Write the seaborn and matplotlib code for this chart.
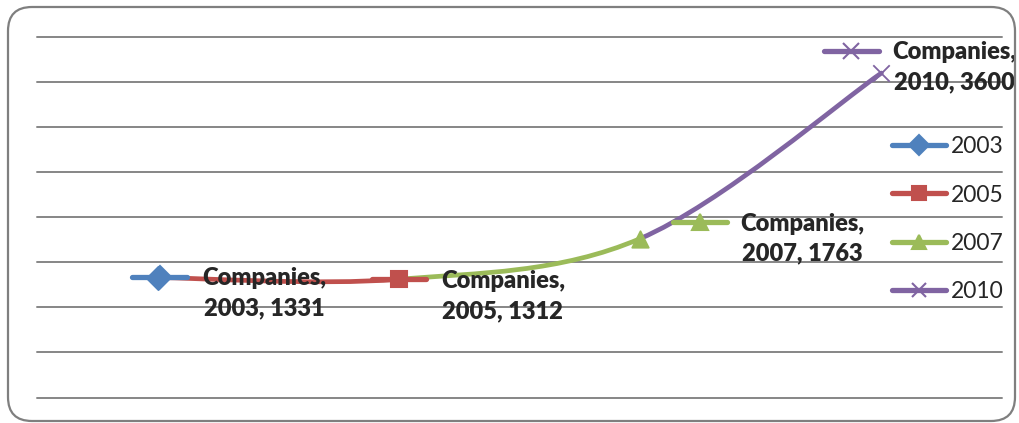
import numpy as np
import pandas as pd
import matplotlib
matplotlib.use('Agg')
import matplotlib.pyplot as plt
import matplotlib.transforms as mtransforms
from matplotlib.path import Path
from matplotlib.patches import PathPatch, FancyBboxPatch
from matplotlib.lines import Line2D
import seaborn as sns

# data
series_name = 'Companies'
years = ['2003', '2005', '2007', '2010']
companies = [1331, 1312, 1763, 3600]

# office-style colours / markers per point
colors = ['#4F81BD', '#C0504D', '#9BBB59', '#8064A2']
markers = ['D', 's', '^', 'x']

df = pd.DataFrame({'year': years, 'companies': companies})
df['pos'] = np.arange(len(df))

sns.set_theme(style='white')
plt.rcParams['font.family'] = ['Lato', 'DejaVu Sans']

W, H = 1019, 423
fig = plt.figure(figsize=(W / 100, H / 100), dpi=100)
ax = fig.add_axes([37 / W, (H - 397.5) / H, 965 / W, 360.5 / H])

ax.set_xlim(-0.5, 3.5)
ax.set_ylim(0, 4000)
ax.set_yticks(np.arange(0, 4001, 500))
ax.set_xticks([])
ax.set_yticklabels([])
ax.tick_params(length=0)
for s in ax.spines.values():
    s.set_visible(False)
ax.yaxis.grid(True, color='#868686', lw=1.4)
ax.set_axisbelow(True)
for gl in ax.get_ygridlines():
    gl.set_clip_on(False)

# smoothed line, each segment coloured like the point it ends on
xs = df['pos'].to_numpy(float)
ys = df['companies'].to_numpy(float)
n = len(xs)
for i in range(n - 1):
    p0 = np.array([xs[max(i - 1, 0)], ys[max(i - 1, 0)]])
    p1 = np.array([xs[i], ys[i]])
    p2 = np.array([xs[i + 1], ys[i + 1]])
    p3 = np.array([xs[min(i + 2, n - 1)], ys[min(i + 2, n - 1)]])
    c1 = p1 + (p2 - p0) / 6
    c2 = p2 - (p3 - p1) / 6
    path = Path([p1, c1, c2, p2], [Path.MOVETO, Path.CURVE4, Path.CURVE4, Path.CURVE4])
    ax.add_patch(PathPatch(path, fill=False, edgecolor=colors[i + 1], lw=3.4,
                           capstyle='round', zorder=3))

# point markers (one call per point: filled and line markers can't mix)
for i in range(n):
    sns.scatterplot(data=df.iloc[[i]], x='pos', y='companies', color=colors[i],
                    marker=markers[i], s=140, linewidth=1.3,
                    edgecolor=colors[i] if markers[i] != 'x' else None,
                    legend=False, zorder=4, ax=ax)
ax.set_xlabel('')
ax.set_ylabel('')

# data labels with legend keys
label_off = [(107, -16), (104, -17), (162, 0), (73, 6)]
key_off = [(2, 1), (0, 0), (60, 17), (-30, 22)]
for i, (yr, val) in enumerate(zip(years, companies)):
    kx, ky = key_off[i]
    tr = mtransforms.offset_copy(ax.transData, fig=fig, x=kx, y=ky, units='dots')
    ax.plot([i - 0.113, i, i + 0.113], [val] * 3, transform=tr, color=colors[i],
            marker=markers[i], markevery=[1], lw=3.8, ms=11, mew=1.5,
            solid_capstyle='round', zorder=4)
    dx, dy = label_off[i]
    ax.annotate(f'{series_name},\n{yr}, {val}', xy=(i, val), xytext=(dx, dy),
                textcoords='offset pixels', ha='center', va='center',
                fontsize=17, fontweight='heavy', linespacing=1.45, zorder=6,
                annotation_clip=False)

# legend
handles = [Line2D([], [], color=c, marker=m, lw=3.8, ms=10, mew=1.5)
           for c, m in zip(colors, markers)]
fig.legend(handles, years, loc='upper left', bbox_to_anchor=(892 / W, 1 - 136 / H),
           frameon=False, fontsize=16.5, handlelength=2.35, handletextpad=0.2,
           labelspacing=1.2, borderpad=0, borderaxespad=0)

# rounded chart border
fig.add_artist(FancyBboxPatch((8, 2), 1007, 414, boxstyle='round,pad=0,rounding_size=24',
                              transform=None, fill=False, edgecolor='#7f7f7f', lw=1.6))

fig.savefig('out.png', dpi=100)
